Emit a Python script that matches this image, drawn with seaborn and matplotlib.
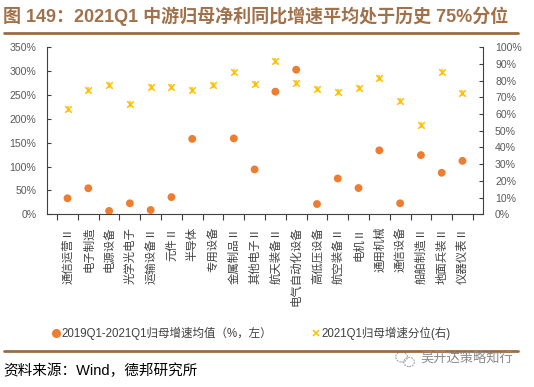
import numpy as np
import pandas as pd
import seaborn as sns
import matplotlib.pyplot as plt
from matplotlib.lines import Line2D
from matplotlib.patches import Ellipse
from matplotlib.ticker import FuncFormatter, FixedLocator

# Data
industries = ['通信运营Ⅱ', '电子制造', '电源设备', '光学光电子', '运输设备Ⅱ', '元件Ⅱ', '半导体',
              '专用设备', '金属制品Ⅱ', '其他电子Ⅱ', '航天装备Ⅱ', '电气自动化设备', '高低压设备',
              '航空装备Ⅱ', '电机Ⅱ', '通用机械', '通信设备', '船舶制造Ⅱ', '地面兵装Ⅱ', '仪器仪表Ⅱ']
avg_growth = [33.5, 54.5, 7, 23, 9, 36, 158, np.nan, 159, 94, 257, 303, 21.5,
              75, 55, 134, 23, 124, 87, 112]
percentile = [63, 74.4, 77.2, 66.2, 76.4, 76.2, 74.6, 77.6, 85.4, 77.8, 92, 78.4, 75,
              73, 75.4, 81.4, 67.8, 53.5, 85.4, 72.4]

label_avg = '2019Q1-2021Q1归母增速均值（%，左）'
label_pct = '2021Q1归母增速分位(右)'

df = pd.DataFrame({'pos': np.arange(len(industries)), 'industry': industries,
                   'avg': avg_growth, 'pct': percentile})

sns.set_style("ticks")
plt.rcParams['font.family'] = ['Liberation Sans', 'Noto Sans CJK SC']

orange = '#ED7D31'
yellow = '#FFC000'
brown = '#A0714A'
axis_col = '#404040'
tick_col = '#595959'

fig = plt.figure(figsize=(5.34, 3.87), dpi=100)
ax = fig.add_axes([0.0875, 0.4463, 0.8175, 0.4315])
ax2 = ax.twinx()

sns.scatterplot(data=df, x='pos', y='avg', ax=ax, color=orange, s=32,
                edgecolor='none', zorder=3)
sns.scatterplot(data=df, x='pos', y='pct', ax=ax2, color=yellow, marker='x',
                s=22, linewidth=1.1, zorder=3)
sns.scatterplot(data=df, x='pos', y='pct', ax=ax2, color=yellow, marker='|',
                s=14, linewidth=1.1, zorder=3)

ax.set_xlim(-1, 20)
ax.set_ylim(0, 350)
ax2.set_ylim(0, 100)
ax.set_yticks(np.arange(0, 351, 50))
ax2.set_yticks(np.arange(0, 101, 10))
ax.yaxis.set_major_formatter(FuncFormatter(lambda v, p: f'{v:.0f}%'))
ax2.yaxis.set_major_formatter(FuncFormatter(lambda v, p: f'{v:.0f}%'))

ax.set_xticks(df['pos'])
ax.set_xticklabels(industries, rotation=90, va='top', ha='center',
                   fontsize=8.2, color=axis_col, family=['Noto Sans CJK SC'])
ax.xaxis.set_minor_locator(FixedLocator(np.arange(-0.5, 20, 1)))
ax.tick_params(axis='x', which='major', length=0, pad=9)
ax.tick_params(axis='x', which='minor', length=4, width=0.8, color=axis_col, direction='out')

ax.tick_params(axis='y', direction='in', length=3, width=0.8, color=axis_col,
               labelsize=7.6, labelcolor=tick_col, pad=7.5)
ax2.tick_params(axis='y', direction='in', length=3, width=0.8, color=axis_col,
                labelsize=7.6, labelcolor=tick_col, pad=8.5)

for a in (ax, ax2):
    a.set_xlabel('')
    a.set_ylabel('')
    a.spines['top'].set_visible(False)
    for s in ('left', 'right', 'bottom'):
        a.spines[s].set_color(axis_col)
        a.spines[s].set_linewidth(0.8)
ax.spines['right'].set_visible(False)
ax2.spines['left'].set_visible(False)
ax2.spines['bottom'].set_visible(False)

# legend
handles = [Line2D([], [], marker='o', ls='none', color=orange, markersize=5.5),
           Line2D([], [], marker='x', ls='none', color=yellow, markersize=4.5, mew=1.1)]
fig.legend(handles, [label_avg, label_pct], loc='center', bbox_to_anchor=(0.47, 0.138),
           ncol=2, frameon=False, fontsize=8.3, handletextpad=0.05, columnspacing=3.4,
           handlelength=0.8, labelcolor=axis_col)

# title, rules, source
fig.text(0.006, 1 - 16 / 387, '图 149：2021Q1 中游归母净利同比增速平均处于历史 75%分位',
         fontsize=13, fontweight='bold', color=brown, va='center', ha='left')
fig.add_artist(Line2D([0.008, 0.97], [1 - 32.5 / 387] * 2, color='#9C6B42', lw=2))
fig.add_artist(Line2D([0.008, 0.97], [1 - 350.5 / 387] * 2, color='#9C6B42', lw=2))
fig.text(0.006, 1 - 371 / 387, '资料来源：Wind，德邦研究所', fontsize=10.5,
         color='black', va='center', ha='left')
fig.text(0.787, 1 - 359 / 387, '吴开达策略知行', fontsize=9.5, color='#8a8a8a',
         va='center', ha='left')
fig.add_artist(Ellipse((0.752, 1 - 357 / 387), 0.022, 0.026, fill=False,
                       ec='#9a9a9a', lw=0.7, ls=(0, (2, 1))))
fig.add_artist(Ellipse((0.766, 1 - 362 / 387), 0.02, 0.024, fill=False,
                       ec='#9a9a9a', lw=0.7, ls=(0, (2, 1))))

fig.savefig('out.png', dpi=100)
